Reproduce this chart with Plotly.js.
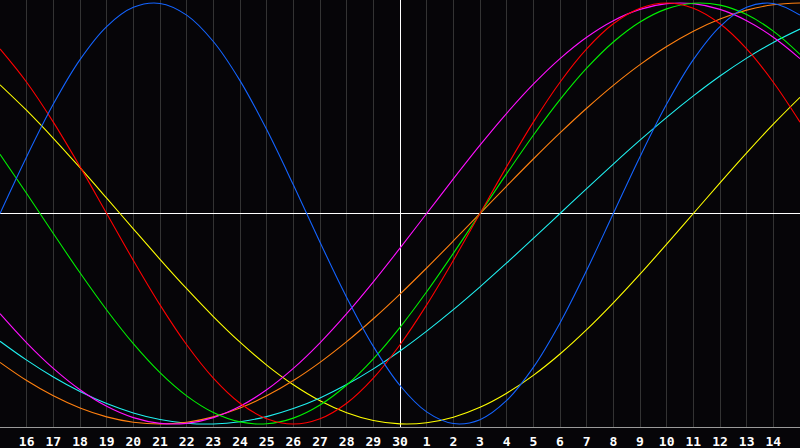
<!DOCTYPE html>
<html>
<head>
<meta charset="utf-8">
<script src="https://cdn.plot.ly/plotly-3.0.1.min.js"></script>
<style>
html,body{margin:0;padding:0;background:#060508;}
#chart{width:800px;height:448px;}
</style>
</head>
<body>
<div id="chart"></div>
<script>
// day offsets relative to the centre day (30)
var days = [-15,-14,-13,-12,-11,-10,-9,-8,-7,-6,-5,-4,-3,-2,-1,0,1,2,3,4,5,6,7,8,9,10,11,12,13,14,15];
var tickDays = [-14,-13,-12,-11,-10,-9,-8,-7,-6,-5,-4,-3,-2,-1,0,1,2,3,4,5,6,7,8,9,10,11,12,13,14];
var tickLabels = ["16","17","18","19","20","21","22","23","24","25","26","27","28","29","30","1","2","3","4","5","6","7","8","9","10","11","12","13","14"];

var blue = [0,0.2698,0.5196,0.7308,0.8879,0.9791,0.9977,0.9423,0.8170,0.6311,0.3984,0.1362,-0.1362,-0.3984,-0.6311,-0.8170,-0.9423,-0.9977,-0.9791,-0.8879,-0.7308,-0.5196,-0.2698,0,0.2698,0.5196,0.7308,0.8879,0.9791,0.9977,0.9423];
var red = [0.7818,0.6235,0.4339,0.2225,0,-0.2225,-0.4339,-0.6235,-0.7818,-0.9010,-0.9749,-1,-0.9749,-0.9010,-0.7818,-0.6235,-0.4339,-0.2225,0,0.2225,0.4339,0.6235,0.7818,0.9010,0.9749,1,0.9749,0.9010,0.7818,0.6235,0.4339];
var green = [0.2817,0.0951,-0.0951,-0.2817,-0.4582,-0.6182,-0.7557,-0.8660,-0.9450,-0.9898,-0.9989,-0.9718,-0.9096,-0.8146,-0.6900,-0.5406,-0.3717,-0.1893,0,0.1893,0.3717,0.5406,0.6900,0.8146,0.9096,0.9718,0.9989,0.9898,0.9450,0.8660,0.7557];
var orange = [-0.7071,-0.7934,-0.8660,-0.9239,-0.9659,-0.9914,-1,-0.9914,-0.9659,-0.9239,-0.8660,-0.7934,-0.7071,-0.6088,-0.5,-0.3827,-0.2588,-0.1305,0,0.1305,0.2588,0.3827,0.5,0.6088,0.7071,0.7934,0.8660,0.9239,0.9659,0.9914,1];
var magenta = [-0.4759,-0.6142,-0.7357,-0.8372,-0.9158,-0.9694,-0.9966,-0.9966,-0.9694,-0.9158,-0.8372,-0.7357,-0.6142,-0.4759,-0.3247,-0.1646,0,0.1646,0.3247,0.4759,0.6142,0.7357,0.8372,0.9158,0.9694,0.9966,0.9966,0.9694,0.9158,0.8372,0.7357];
var cyan = [-0.6068,-0.6965,-0.7765,-0.8456,-0.9028,-0.9473,-0.9786,-0.9960,-0.9996,-0.9890,-0.9646,-0.9266,-0.8758,-0.8126,-0.7378,-0.6528,-0.5585,-0.4566,-0.3482,-0.2349,-0.1183,0,0.1183,0.2349,0.3482,0.4566,0.5585,0.6528,0.7378,0.8126,0.8758];
var yellow = [0.6112,0.4894,0.3572,0.2174,0.0730,-0.0730,-0.2174,-0.3572,-0.4894,-0.6112,-0.7199,-0.8133,-0.8893,-0.9464,-0.9834,-0.9993,-0.9940,-0.9675,-0.9205,-0.8536,-0.7689,-0.6675,-0.5518,-0.4244,-0.2881,-0.1456,0,0.1456,0.2881,0.4244,0.5518];

var seriesList = [
  {y: yellow,  color: '#ffff00'},
  {y: cyan,    color: '#20f0f0'},
  {y: orange,  color: '#ff8010'},
  {y: magenta, color: '#ff10ff'},
  {y: green,   color: '#00f000'},
  {y: red,     color: '#ff0000'},
  {y: blue,    color: '#1464ff'}
];

var traces = seriesList.map(function(s){
  return {
    x: days, y: s.y, type: 'scatter', mode: 'lines',
    line: {color: s.color, width: 1.1, shape: 'spline', smoothing: 1},
    hoverinfo: 'skip', showlegend: false
  };
});

var layout = {
  width: 800, height: 448,
  margin: {l: 0, r: 0, t: 0, b: 21, pad: 0},
  paper_bgcolor: '#060508',
  plot_bgcolor: '#060508',
  showlegend: false,
  xaxis: {
    range: [-15, 15],
    tickmode: 'array', tickvals: tickDays, ticktext: tickLabels,
    showgrid: true, gridcolor: '#333333', gridwidth: 1,
    zeroline: true, zerolinecolor: '#ffffff', zerolinewidth: 1,
    showline: true, linecolor: '#9a9a9a', linewidth: 1, mirror: true,
    ticks: '', ticklen: 0, ticklabelstandoff: 2,
    tickfont: {family: 'DejaVu Sans Mono', size: 13, color: '#ffffff', weight: 'bold'},
    fixedrange: true
  },
  yaxis: {
    range: [-1.014, 1.014],
    showgrid: false, showticklabels: false, ticks: '',
    zeroline: true, zerolinecolor: '#ffffff', zerolinewidth: 1,
    showline: true, linecolor: '#9a9a9a', linewidth: 1, mirror: false,
    fixedrange: true
  }
};

Plotly.newPlot('chart', traces, layout, {displayModeBar: false, staticPlot: true});
</script>
</body>
</html>
